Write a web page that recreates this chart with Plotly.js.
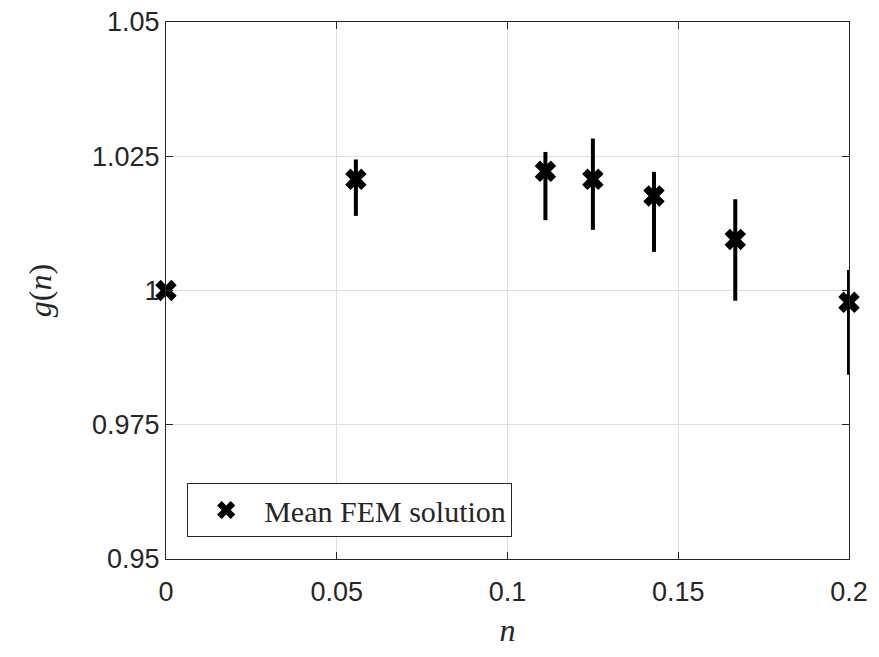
<!DOCTYPE html>
<html>
<head>
<meta charset="utf-8">
<script src="https://cdn.plot.ly/plotly-3.0.1.min.js"></script>
<style>html,body{margin:0;padding:0;background:#fff;}#chart{width:879px;height:657px;}</style>
</head>
<body>
<div id="chart"></div>
<script>
// Data
const nValues = [0, 0.0556, 0.1111, 0.125, 0.1429, 0.1667, 0.2];
const gMean = [1.0, 1.0207, 1.0222, 1.0207, 1.0176, 1.0095, 0.9978];
const gUpper = [1.0, 1.0244, 1.0258, 1.0283, 1.0221, 1.0170, 1.0038];
const gLower = [1.0, 1.0139, 1.0131, 1.0113, 1.0072, 0.9981, 0.9843];
const xTicks = [0, 0.05, 0.1, 0.15, 0.2];
const xTickText = ['0', '0.05', '0.1', '0.15', '0.2'];
const yTicks = [0.95, 0.975, 1, 1.025, 1.05];
const yTickText = ['0.95', '0.975', '1', '1.025', '1.05'];
const seriesName = 'Mean FEM solution';

const errPlus = gUpper.map((u, i) => u - gMean[i]);
const errMinus = gMean.map((m, i) => m - gLower[i]);

const trace = {
  x: nValues,
  y: gMean,
  type: 'scatter',
  mode: 'markers',
  name: seriesName,
  showlegend: true,
  cliponaxis: false,
  marker: {symbol: 'x', size: 19, color: '#000000', line: {width: 0}},
  error_y: {
    type: 'data', symmetric: false,
    array: errPlus, arrayminus: errMinus,
    color: '#000000', thickness: 4, width: 0
  }
};

const axisCommon = {
  showline: true, linecolor: '#262626', linewidth: 1, mirror: 'ticks',
  ticks: 'inside', ticklen: 7, tickwidth: 1, tickcolor: '#262626',
  showgrid: true, gridcolor: '#dfdfdf', gridwidth: 1,
  zeroline: false,
  tickfont: {family: 'Liberation Sans, Arial, sans-serif', size: 27, color: '#262626'}
};

const layout = {
  width: 879, height: 657,
  margin: {l: 166, r: 30, t: 22, b: 98},
  paper_bgcolor: '#ffffff', plot_bgcolor: '#ffffff',
  showlegend: true,
  xaxis: Object.assign({}, axisCommon, {
    range: [0, 0.2], tickvals: xTicks, ticktext: xTickText,
    ticklabelstandoff: 9,
    title: {text: '<i>n</i>', font: {family: 'Liberation Serif, Times New Roman, serif', size: 32, color: '#262626'}, standoff: 12}
  }),
  yaxis: Object.assign({}, axisCommon, {
    range: [0.95, 1.05], tickvals: yTicks, ticktext: yTickText,
    ticklabelstandoff: 0,
    title: {text: '<i>g</i>(<i>n</i>)', font: {family: 'Liberation Serif, Times New Roman, serif', size: 32, color: '#262626'}, standoff: 30}
  }),
  legend: {
    x: 0.031, y: 0.041, xanchor: 'left', yanchor: 'bottom',
    bgcolor: '#ffffff', bordercolor: '#262626', borderwidth: 1,
    font: {family: 'Liberation Serif, Times New Roman, serif', size: 30, color: '#262626'},
    itemwidth: 66
  }
};

Plotly.newPlot('chart', [trace], layout, {displayModeBar: false, staticPlot: true});
</script>
</body>
</html>
